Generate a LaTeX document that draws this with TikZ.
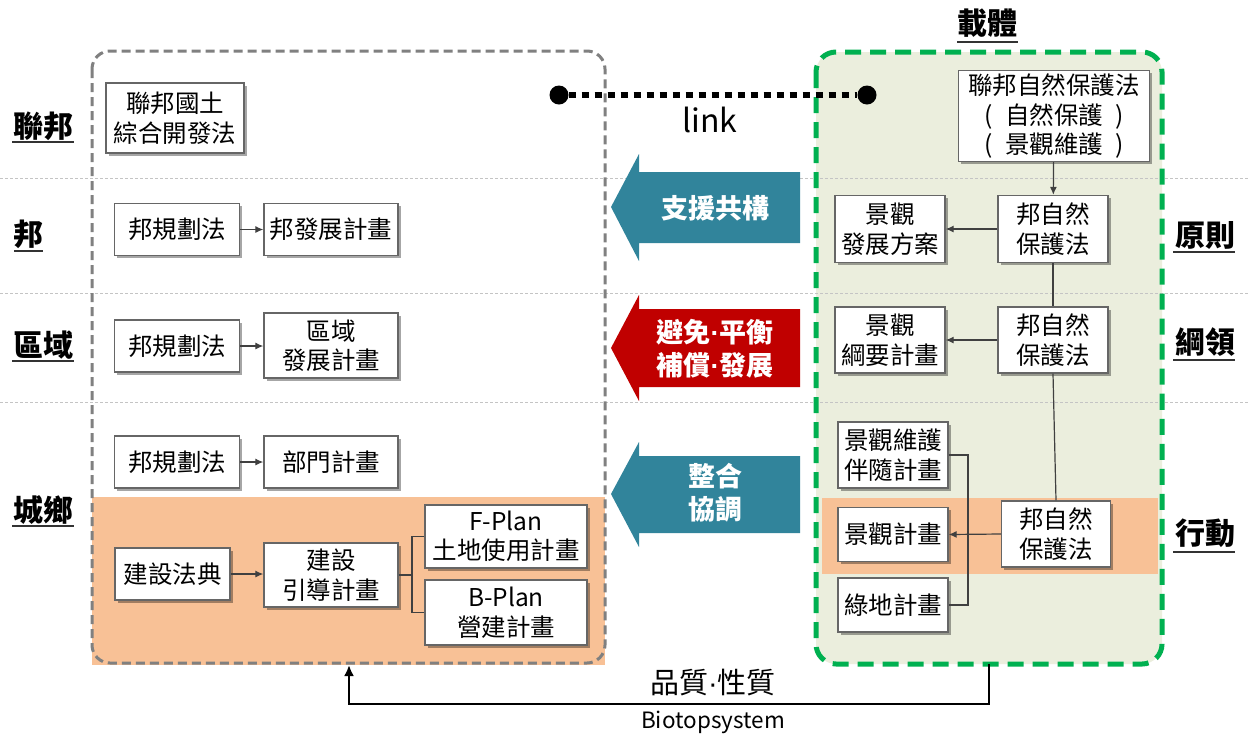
\documentclass[tikz,border=0pt]{standalone}
\usepackage{fontspec}
\setmainfont{Noto Sans CJK TC}
\newfontfamily\latinf{Liberation Sans}
\usetikzlibrary{arrows.meta,shadows,calc}
\definecolor{arTeal}{HTML}{31849B}
\definecolor{arRed}{HTML}{C00000}
\definecolor{peach}{HTML}{F8C196}
\definecolor{olivebg}{HTML}{EBEEDD}
\definecolor{dgreen}{HTML}{00B050}
\definecolor{bgray}{HTML}{666666}
\definecolor{cgray}{HTML}{808080}
\definecolor{lgray}{HTML}{C4C4C4}
\definecolor{lnk}{HTML}{404040}
\newcommand\bxf{\fontsize{24.5}{29.5}\selectfont}
\newcommand\lbf{\fontsize{30}{34}\selectfont\bfseries}
\newcommand\arf{\fontsize{27}{33}\selectfont\bfseries}
\newcommand\md{{\latinf\bfseries ·}}
\tikzset{
  box/.style={draw=bgray, fill=white, line width=1.3pt, align=center, inner sep=0pt,
    font=\bxf, drop shadow={shadow xshift=2.5pt, shadow yshift=-2.5pt, opacity=0.35, fill=black}},
  conn/.style={draw=lnk, line width=1.2pt},
  carrow/.style={conn, -{Latex[length=8pt,width=7pt]}},
  rowlab/.style={font=\lbf, inner sep=0pt},
  ul/.style={line width=1.6pt, draw=black!80},
  grid/.style={draw=lgray, line width=1pt, dash pattern=on 3pt off 2pt},
}
\begin{document}
\begin{tikzpicture}[x=1pt,y=-1pt]
\useasboundingbox[fill=white] (0,0) rectangle (1250,740);
% backgrounds
\fill[peach] (92,497) rectangle (605,665);
\fill[olivebg, rounded corners=20pt] (816,52) rectangle (1162,664);
\fill[peach] (822,498) rectangle (1158,574);
% grid lines
\draw[grid] (0,178) -- (1250,178);
\draw[grid] (0,293) -- (1250,293);
\draw[grid] (0,402) -- (1250,402);
% containers
\draw[cgray, line width=3pt, dash pattern=on 9pt off 5pt, rounded corners=18pt] (92,51) rectangle (605,663);
\draw[dgreen, line width=5pt, dash pattern=on 16pt off 9pt, rounded corners=20pt] (816,52) rectangle (1162,664);
% row labels
\node[rowlab] (l1) at (43,126) {聯邦};
\draw[ul] (12,142) -- (74,142);
\node[rowlab] (l2) at (28,234) {邦};
\draw[ul] (14,251) -- (43,251);
\node[rowlab] (l3) at (43,345) {區域};
\draw[ul] (12,361) -- (74,361);
\node[rowlab] (l4) at (43,510) {城鄉};
\draw[ul] (12,526) -- (74,526);
\node[rowlab] (r1) at (1205,235) {原則};
\draw[ul] (1173,252) -- (1235,252);
\node[rowlab] (r2) at (1205,342) {綱領};
\draw[ul] (1173,360) -- (1235,360);
\node[rowlab] (r3) at (1205,533) {行動};
\draw[ul] (1173,552) -- (1235,552);
\node[rowlab] (top) at (987,23) {載體};
\draw[ul] (957,42) -- (1018,42);
% left boxes
\node[box, minimum width=138, minimum height=70] (L1) at (175,118) {聯邦國土\\綜合開發法};
\node[box, minimum width=125, minimum height=52] (L2a) at (177,229.5) {邦規劃法};
\node[box, minimum width=134, minimum height=52] (L2b) at (331,229.5) {邦發展計畫};
\node[box, minimum width=125, minimum height=52] (L3a) at (177,346) {邦規劃法};
\node[box, minimum width=134, minimum height=65] (L3b) at (331,345.5) {區域\\發展計畫};
\node[box, minimum width=125, minimum height=52] (L4a) at (177,462) {邦規劃法};
\node[box, minimum width=134, minimum height=52] (L4b) at (331,462) {部門計畫};
\node[box, minimum width=115, minimum height=52] (L5a) at (172.5,574) {建設法典};
\node[box, minimum width=134, minimum height=64] (L5b) at (331,575) {建設\\引導計畫};
\node[box, minimum width=162, minimum height=63] (L5c) at (506,536.5) {F-Plan\\土地使用計畫};
\node[box, minimum width=162, minimum height=65] (L5d) at (506,612.5) {B-Plan\\營建計畫};
\draw[carrow] (L2a) -- (L2b);
\draw[carrow] (L3a) -- (L3a -| L3b.west);
\draw[carrow] (L4a) -- (L4b);
\draw[carrow] (L5a) -- (L5a -| L5b.west);
\coordinate (jn) at (412,575);
\draw[conn] (L5b.east) -- (jn);
\draw[conn] (L5c.west) -| (jn) |- (L5d.west);
% right boxes
\node[box, minimum width=191, minimum height=91] (R0) at (1054,116) {聯邦自然保護法\\(\enspace 自然保護\enspace)\\(\enspace 景觀維護\enspace)};
\node[box, minimum width=110, minimum height=67] (R1a) at (890,229) {景觀\\發展方案};
\node[box, minimum width=110, minimum height=67] (R1b) at (1053,229) {邦自然\\保護法};
\node[box, minimum width=110, minimum height=66] (R2a) at (890,340) {景觀\\綱要計畫};
\node[box, minimum width=110, minimum height=66] (R2b) at (1053,340) {邦自然\\保護法};
\node[box, minimum width=110, minimum height=66] (R3a) at (893,455) {景觀維護\\伴隨計畫};
\node[box, minimum width=110, minimum height=54] (R3b) at (893,534.5) {景觀計畫};
\node[box, minimum width=110, minimum height=54] (R3c) at (893,605) {綠地計畫};
\node[box, minimum width=109, minimum height=66] (R3d) at (1056,534) {邦自然\\保護法};
\draw[carrow] (R0) -- (R1b);
\draw[carrow] (R1b) -- (R1a);
\draw[conn] (R1b) -- (R2b);
\draw[carrow] (R2b) -- (R2a);
\draw[conn] (R2b.south) -- (R3d.north);
\coordinate (rj) at (968,534);
\draw[conn] (R3a.east) -| (rj) |- (R3c.east);
\draw[carrow] (R3d.west) -- (R3b.east);
% link
\node[circle, fill=black, inner sep=0pt, minimum size=19] (d1) at (559,95) {};
\node[circle, fill=black, inner sep=0pt, minimum size=19] (d2) at (867,95) {};
\draw[line width=6pt, dash pattern=on 7pt off 6pt] (d1) -- (d2);
\node[font=\fontsize{32}{36}\selectfont] (lk) at (710,120) {link};
% big arrows
\fill[arTeal] (611,207) -- (639,154) -- (639,172) -- (800,172) -- (800,243) -- (639,243) -- (639,261) -- cycle;
\node[font=\arf, text=white] (a1) at (715,208) {支援共構};
\fill[arRed] (611,348) -- (639,295) -- (639,309) -- (800,309) -- (800,387) -- (639,387) -- (639,401) -- cycle;
\node[font=\arf, text=white, align=center] (a2) at (715,349) {避免\md 平衡\\補償\md 發展};
\fill[arTeal] (611,494) -- (639,442) -- (639,456) -- (800,456) -- (800,533) -- (639,533) -- (639,547) -- cycle;
\node[font=\arf, text=white, align=center] (a3) at (715,493) {整合\\協調};
% bottom connector
\coordinate (bs) at (989,664);
\coordinate (be) at (349,665);
\draw[line width=2.2pt, -{Latex[length=11pt,width=10pt]}] (bs) -- (989,704) -- (349,704) -- (be);
\node[font=\fontsize{29}{32}\selectfont] (q) at (713,683) {品質{\latinf ·}性質};
\node[font=\fontsize{22.5}{26}\selectfont] (bio) at (713,722) {Biotopsystem};
\end{tikzpicture}
\end{document}
